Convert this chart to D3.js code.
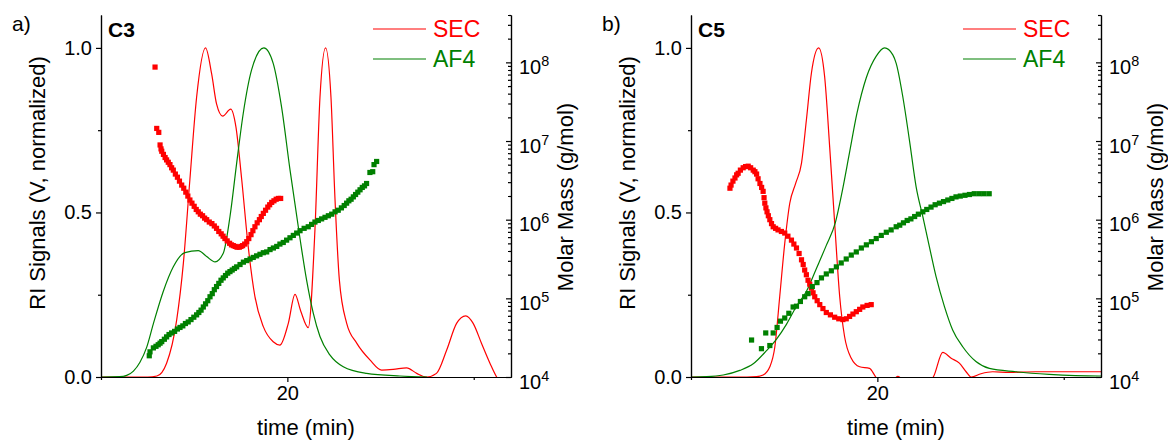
<!DOCTYPE html>
<html>
<head>
<meta charset="utf-8">
<script src="https://cdn.jsdelivr.net/npm/d3@7"></script>
<style>
  body { margin: 0; background: #fff; }
  svg { font-family: Arial, "Liberation Sans", sans-serif; }
</style>
</head>
<body>
<svg id="chart" width="1168" height="441"></svg>
<script>
// RI signal traces: [time (min), normalized signal]
var c3Sec = [[10,0],[12.5,0],[13.0,0.003],[13.52,0.042],[14.06,0.173],[14.42,0.346],[14.77,0.6],[15.13,0.85],[15.61,1.0],[15.94,0.92],[16.2,0.83],[16.53,0.793],[16.96,0.814],[17.24,0.76],[17.55,0.6],[17.9,0.396],[18.26,0.244],[18.71,0.153],[19.24,0.107],[19.6,0.097],[20.05,0.163],[20.41,0.251],[20.72,0.2],[21.12,0.15],[21.48,0.447],[21.75,0.85],[22.05,1.0],[22.34,0.85],[22.55,0.548],[22.79,0.295],[23.18,0.164],[23.72,0.103],[24.43,0.052],[25.06,0.021],[25.68,0.023],[26.4,0.028],[26.94,0.011],[27.47,0.0],[28.0,0.011],[28.55,0.082],[29.08,0.163],[29.57,0.186],[29.97,0.163],[30.42,0.102],[30.87,0.042],[31.23,0.0],[31.35,-0.01]];
var c3Af4 = [[10,0],[11.0,0.001],[11.38,0.005],[11.74,0.018],[12.09,0.045],[12.45,0.09],[12.8,0.16],[13.34,0.26],[13.88,0.335],[14.5,0.378],[15.22,0.384],[15.67,0.366],[16.12,0.35],[16.56,0.376],[16.92,0.487],[17.28,0.65],[17.63,0.80],[18.08,0.933],[18.74,1.0],[19.24,0.953],[19.69,0.82],[20.14,0.63],[20.68,0.42],[21.03,0.295],[21.39,0.194],[21.75,0.123],[22.28,0.067],[23.0,0.031],[24.25,0.011],[26.04,0.003],[27.5,0]];
var c5Sec = [[10,0],[13.0,0],[13.52,0.001],[13.87,0.006],[14.23,0.031],[14.5,0.092],[14.76,0.244],[15.03,0.406],[15.3,0.528],[15.62,0.589],[15.93,0.65],[16.19,0.78],[16.46,0.923],[16.85,1.0],[17.17,0.913],[17.44,0.70],[17.71,0.467],[17.98,0.244],[18.24,0.123],[18.6,0.057],[19.05,0.031],[19.58,0.026],[19.85,0.006],[20.05,-0.01],[20.8,-0.01],[21.1,0.002],[21.4,-0.01],[22.5,-0.02],[23.0,0.0],[23.51,0.075],[23.96,0.057],[24.4,0.042],[24.76,0.016],[25.03,0.0],[25.56,0.01],[26.19,0.016],[27.08,0.014],[28.5,0.016],[30.3,0.016],[32,0.016]];
var c5Af4 = [[10,0],[10.84,0.001],[11.73,0.006],[12.62,0.02],[13.34,0.04],[14.05,0.08],[14.59,0.115],[15.12,0.16],[15.66,0.215],[16.19,0.26],[16.73,0.33],[17.26,0.4],[17.75,0.47],[18.1,0.56],[18.5,0.68],[18.9,0.8],[19.41,0.91],[19.94,0.975],[20.39,1.0],[20.83,0.979],[21.01,0.953],[21.37,0.85],[21.72,0.72],[22.08,0.578],[22.44,0.487],[22.79,0.396],[23.15,0.305],[23.6,0.214],[24.04,0.143],[24.58,0.092],[25.29,0.047],[26.01,0.026],[27.43,0.016],[29.22,0.008],[31.9,0.003],[32,0.003]];

// molar mass points: [time (min), log10 M (g/mol)]
var c3SecMass = [[12.9,7.94],[12.99,7.16],[13.1,7.11],[13.17,6.95],[13.22,6.9],[13.26,6.87],[13.35,6.83],[13.44,6.79],[13.52,6.76],[13.61,6.73],[13.7,6.70],[13.79,6.66],[13.88,6.63],[13.99,6.58],[14.1,6.54],[14.21,6.49],[14.33,6.44],[14.44,6.40],[14.55,6.35],[14.66,6.30],[14.77,6.25],[14.88,6.21],[15.0,6.17],[15.11,6.13],[15.22,6.10],[15.33,6.07],[15.45,6.05],[15.56,6.02],[15.67,6.00],[15.81,5.97],[15.95,5.95],[16.08,5.92],[16.2,5.89],[16.32,5.85],[16.45,5.82],[16.55,5.79],[16.65,5.76],[16.77,5.73],[16.9,5.70],[17.0,5.68],[17.1,5.67],[17.2,5.66],[17.3,5.65],[17.42,5.65],[17.51,5.66],[17.6,5.67],[17.71,5.69],[17.82,5.72],[17.93,5.76],[18.05,5.81],[18.15,5.86],[18.26,5.91],[18.38,5.96],[18.5,6.00],[18.6,6.04],[18.71,6.08],[18.83,6.12],[18.95,6.16],[19.05,6.19],[19.16,6.22],[19.28,6.24],[19.4,6.26],[19.52,6.27],[19.64,6.27]];
var c3Af4Mass = [[12.59,4.27],[12.63,4.32],[12.81,4.37],[12.95,4.39],[13.07,4.41],[13.17,4.43],[13.26,4.45],[13.4,4.48],[13.52,4.51],[13.65,4.54],[13.79,4.56],[13.95,4.58],[14.1,4.61],[14.24,4.63],[14.39,4.65],[14.53,4.68],[14.68,4.70],[14.83,4.73],[14.98,4.76],[15.13,4.79],[15.25,4.82],[15.37,4.85],[15.49,4.89],[15.61,4.93],[15.73,4.97],[15.85,5.02],[15.97,5.06],[16.08,5.11],[16.2,5.15],[16.32,5.19],[16.44,5.23],[16.56,5.26],[16.68,5.29],[16.8,5.32],[16.92,5.34],[17.04,5.36],[17.16,5.38],[17.28,5.40],[17.46,5.43],[17.64,5.46],[17.82,5.48],[18.0,5.50],[18.17,5.52],[18.35,5.54],[18.53,5.56],[18.71,5.58],[18.89,5.59],[19.07,5.62],[19.25,5.64],[19.43,5.66],[19.6,5.69],[19.78,5.71],[19.96,5.74],[20.14,5.77],[20.32,5.80],[20.5,5.83],[20.68,5.86],[20.9,5.89],[21.12,5.91],[21.3,5.94],[21.48,5.97],[21.66,5.99],[21.84,6.01],[22.02,6.03],[22.2,6.05],[22.38,6.07],[22.56,6.10],[22.73,6.12],[22.9,6.15],[23.05,6.18],[23.18,6.21],[23.3,6.24],[23.42,6.26],[23.54,6.29],[23.66,6.32],[23.78,6.35],[23.9,6.38],[24.02,6.41],[24.14,6.43],[24.25,6.46],[24.43,6.60],[24.58,6.61],[24.65,6.70],[24.79,6.74]];
var c5SecMass = [[12.09,6.40],[12.15,6.44],[12.25,6.49],[12.36,6.53],[12.45,6.57],[12.53,6.59],[12.65,6.63],[12.8,6.66],[12.93,6.675],[13.07,6.68],[13.2,6.66],[13.34,6.63],[13.43,6.61],[13.52,6.58],[13.6,6.52],[13.7,6.46],[13.79,6.41],[13.87,6.36],[13.92,6.28],[13.96,6.21],[14.02,6.15],[14.08,6.10],[14.15,6.05],[14.23,6.00],[14.32,5.95],[14.41,5.91],[14.54,5.89],[14.67,5.87],[14.85,5.85],[15.03,5.83],[15.2,5.79],[15.39,5.74],[15.52,5.69],[15.66,5.64],[15.8,5.57],[15.93,5.49],[16.02,5.43],[16.1,5.36],[16.19,5.30],[16.28,5.23],[16.37,5.18],[16.46,5.13],[16.55,5.07],[16.64,5.02],[16.77,4.97],[16.91,4.92],[17.08,4.87],[17.26,4.82],[17.48,4.79],[17.71,4.76],[17.93,4.74],[18.15,4.73],[18.33,4.74],[18.51,4.77],[18.69,4.80],[18.87,4.83],[19.05,4.86],[19.22,4.89],[19.45,4.91],[19.67,4.92]];
var c5Af4Mass = [[13.25,4.47],[13.78,4.36],[14.01,4.56],[14.23,4.40],[14.41,4.56],[14.62,4.63],[14.8,4.71],[15.03,4.75],[15.25,4.81],[15.48,4.89],[15.66,4.90],[15.87,4.96],[16.1,5.02],[16.28,5.06],[16.51,5.15],[16.76,5.20],[17.0,5.26],[17.26,5.31],[17.53,5.35],[17.8,5.40],[18.06,5.45],[18.33,5.50],[18.6,5.55],[18.87,5.59],[19.14,5.64],[19.41,5.68],[19.68,5.72],[19.94,5.76],[20.21,5.80],[20.48,5.84],[20.74,5.87],[21.01,5.91],[21.2,5.93],[21.4,5.96],[21.6,5.99],[21.8,6.01],[22.0,6.04],[22.2,6.07],[22.44,6.10],[22.65,6.13],[22.88,6.16],[23.1,6.19],[23.33,6.21],[23.55,6.23],[23.78,6.25],[24.0,6.27],[24.22,6.29],[24.45,6.30],[24.7,6.31],[24.94,6.32],[25.2,6.33],[25.47,6.33],[25.73,6.33],[26.0,6.33]];

var leftTicks = [0, 0.5, 1.0];
var leftMinor = [0.25, 0.75];
var timeTicks = [20];
var timeMinor = [10, 30];
var massTicks = [1e4, 1e5, 1e6, 1e7, 1e8];
var seriesNames = ['SEC', 'AF4'];
var seriesColors = ['#ff0000', '#008000'];

var panels = [
    {tag: 'a)', name: 'C3', sec: c3Sec, af4: c3Af4, secMass: c3SecMass, af4Mass: c3Af4Mass, dx: 0},
    {tag: 'b)', name: 'C5', sec: c5Sec, af4: c5Af4, secMass: c5SecMass, af4Mass: c5Af4Mass, dx: 590}
];

const svg = d3.select('#chart');
const plotL = 101, plotR = 511, plotT = 15, plotB = 377;

var xScale = d3.scaleLinear().domain([10, 32]).range([plotL, plotR]);
var yScale = d3.scaleLinear().domain([0, 1.1]).range([plotB, plotT]);
var mScale = d3.scaleLog().domain([1e4, 4e8]).range([plotB, plotT]);

var massMinor = [];
[4, 5, 6, 7, 8].forEach(function(e){
    for (var k = 2; k <= 9; k++){
        var v = k * Math.pow(10, e);
        if (v <= 4e8) massMinor.push(v);
    }
});

var line = d3.line()
    .x(d => xScale(d[0]))
    .y(d => yScale(d[1]))
    .curve(d3.curveMonotoneX);

panels.forEach(function(p, i){
    var g = svg.append('g').attr('transform', 'translate(' + p.dx + ',0)');

    g.append('clipPath').attr('id', 'clip' + i)
        .append('rect').attr('x', plotL).attr('y', plotT)
        .attr('width', plotR - plotL).attr('height', plotB - plotT);

    var plot = g.append('g').attr('clip-path', 'url(#clip' + i + ')');
    [p.sec, p.af4].forEach(function(s, j){
        plot.append('path').datum(s)
            .attr('d', line)
            .attr('fill', 'none')
            .attr('stroke', seriesColors[j])
            .attr('stroke-width', 1.2);
    });

    [p.secMass, p.af4Mass].forEach(function(s, j){
        plot.append('g').selectAll('rect')
            .data(s)
            .join('rect')
                .attr('x', d => xScale(d[0]) - 2.6)
                .attr('y', d => mScale(Math.pow(10, d[1])) - 2.6)
                .attr('width', 5.2)
                .attr('height', 5.2)
                .attr('fill', seriesColors[j]);
    });

    // axes
    g.append('g').attr('class', 'yl').attr('transform', 'translate(' + plotL + ',0)')
        .call(d3.axisLeft(yScale).tickValues(leftTicks).tickFormat(d3.format('.1f')).tickSize(5).tickSizeOuter(0).tickPadding(4));
    g.append('g').attr('transform', 'translate(' + plotL + ',0)')
        .call(d3.axisLeft(yScale).tickValues(leftMinor).tickFormat('').tickSize(3).tickSizeOuter(0));

    g.append('g').attr('transform', 'translate(0,' + plotB + ')')
        .call(d3.axisBottom(xScale).tickValues(timeTicks).tickSize(5).tickSizeOuter(0).tickPadding(4));
    g.append('g').attr('transform', 'translate(0,' + plotB + ')')
        .call(d3.axisBottom(xScale).tickValues(timeMinor).tickFormat('').tickSize(3).tickSizeOuter(0));

    var mAxis = g.append('g').attr('transform', 'translate(' + plotR + ',0)')
        .call(d3.axisRight(mScale).tickValues(massTicks).tickFormat('').tickSize(-5).tickSizeOuter(0).tickPadding(8));
    g.append('g').attr('transform', 'translate(' + plotR + ',0)')
        .call(d3.axisRight(mScale).tickValues(massMinor).tickFormat('').tickSize(-3).tickSizeOuter(0));

    mAxis.selectAll('.tick text').each(function(d){
        var t = d3.select(this);
        t.text('10');
        t.append('tspan').attr('dy', '-0.55em').attr('font-size', '0.72em').text(Math.round(Math.log10(d)));
    });

    g.selectAll('.domain, .tick line').attr('stroke', '#000').attr('stroke-width', 1.2);
    g.selectAll('.tick text').attr('font-size', 20).attr('fill', '#000')
        .attr('font-family', 'Arial, "Liberation Sans", sans-serif');
    mAxis.selectAll('.tick text').attr('x', 8).attr('dy', '0.55em');

    // titles
    g.append('text').attr('x', 12).attr('y', 31).attr('font-size', 21).text(p.tag);
    g.append('text').attr('x', 108).attr('y', 37).attr('font-size', 21).attr('font-weight', 'bold').text(p.name);

    g.append('text')
        .attr('transform', 'translate(45,183) rotate(-90)')
        .attr('text-anchor', 'middle').attr('font-size', 22)
        .text('RI Signals (V, normalized)');
    g.append('text')
        .attr('transform', 'translate(573,197) rotate(-90)')
        .attr('text-anchor', 'middle').attr('font-size', 22)
        .text('Molar Mass (g/mol)');
    g.append('text')
        .attr('x', (plotL + plotR) / 2).attr('y', 435)
        .attr('text-anchor', 'middle').attr('font-size', 22)
        .text('time (min)');

    // legend
    seriesNames.forEach(function(n, j){
        var ly = 29 + j * 30;
        g.append('line').attr('x1', 373).attr('x2', 426).attr('y1', ly).attr('y2', ly)
            .attr('stroke', seriesColors[j]).attr('stroke-width', 1.2);
        g.append('text').attr('x', 433).attr('y', ly + 8).attr('font-size', 23)
            .attr('fill', seriesColors[j]).text(n);
    });
});
</script>
</body>
</html>
